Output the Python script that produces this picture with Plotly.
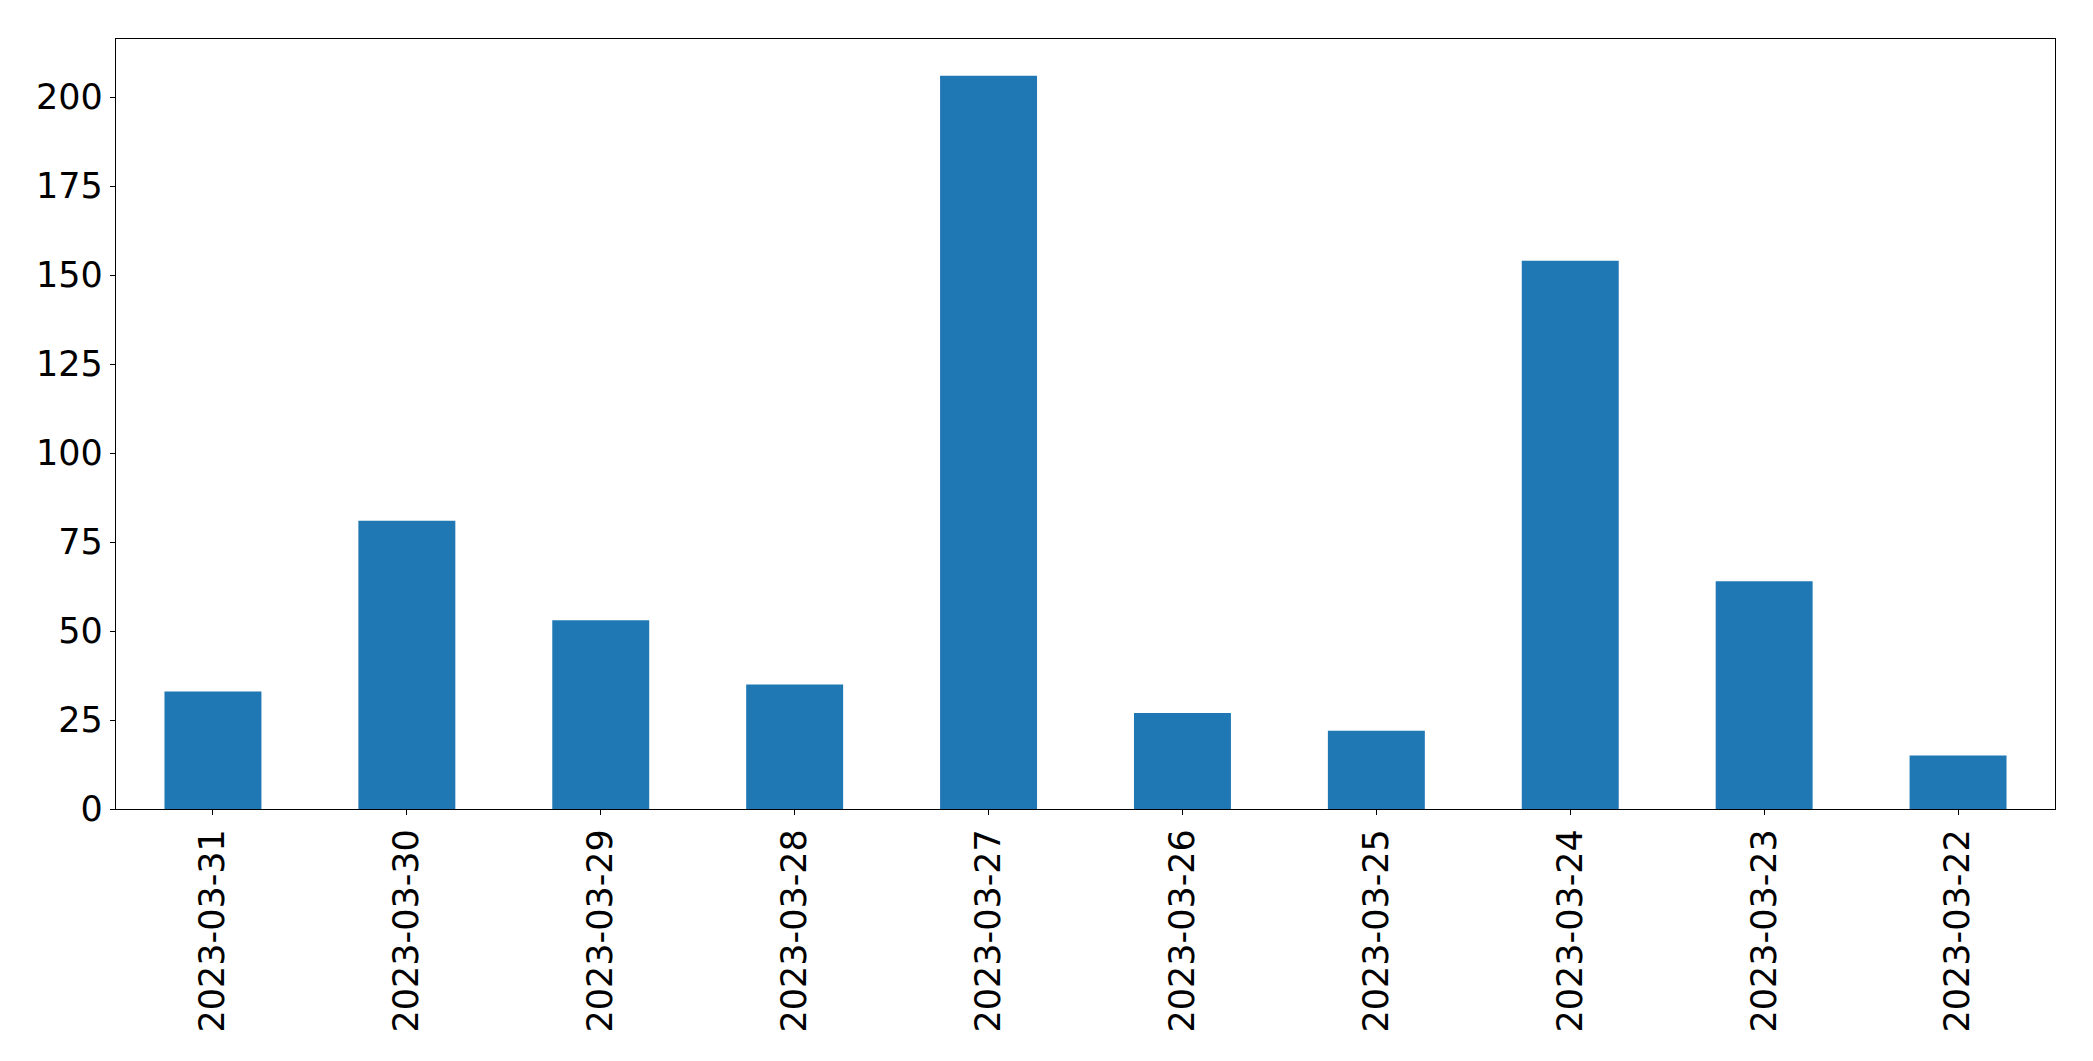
import plotly.graph_objects as go

dates = ["2023-03-31", "2023-03-30", "2023-03-29", "2023-03-28", "2023-03-27",
         "2023-03-26", "2023-03-25", "2023-03-24", "2023-03-23", "2023-03-22"]
counts = [33, 81, 53, 35, 206, 27, 22, 154, 64, 15]
y_ticks = [0, 25, 50, 75, 100, 125, 150, 175, 200]

fig = go.Figure(go.Bar(x=dates, y=counts, marker_color="#1f77b4", marker_line_width=0, width=0.5))

font = dict(family="DejaVu Sans", size=35, color="black")
fig.update_layout(
    width=2093, height=1061,
    margin=dict(l=116, r=38, t=39, b=252, pad=0),
    paper_bgcolor="white", plot_bgcolor="white",
    showlegend=False, bargap=0.5,
    font=font,
)
fig.update_xaxes(
    type="category", range=[-0.5, 9.5], tickangle=-90,
    showline=True, mirror=True, linecolor="black", linewidth=1.3,
    ticks="outside", ticklen=5, tickcolor="black", tickwidth=1.3,
    showgrid=False, zeroline=False, tickfont=font, ticklabelstandoff=0,
)
fig.update_yaxes(
    range=[0, 216.3], tickvals=y_ticks,
    showline=True, mirror=True, linecolor="black", linewidth=1.3,
    ticks="outside", ticklen=5, tickcolor="black", tickwidth=1.3,
    showgrid=False, zeroline=False, tickfont=font, ticklabelstandoff=0,
)
fig.write_html("out.html", config={"displayModeBar": False},
               post_script="document.body.style.margin='0';document.body.style.overflow='hidden';")
